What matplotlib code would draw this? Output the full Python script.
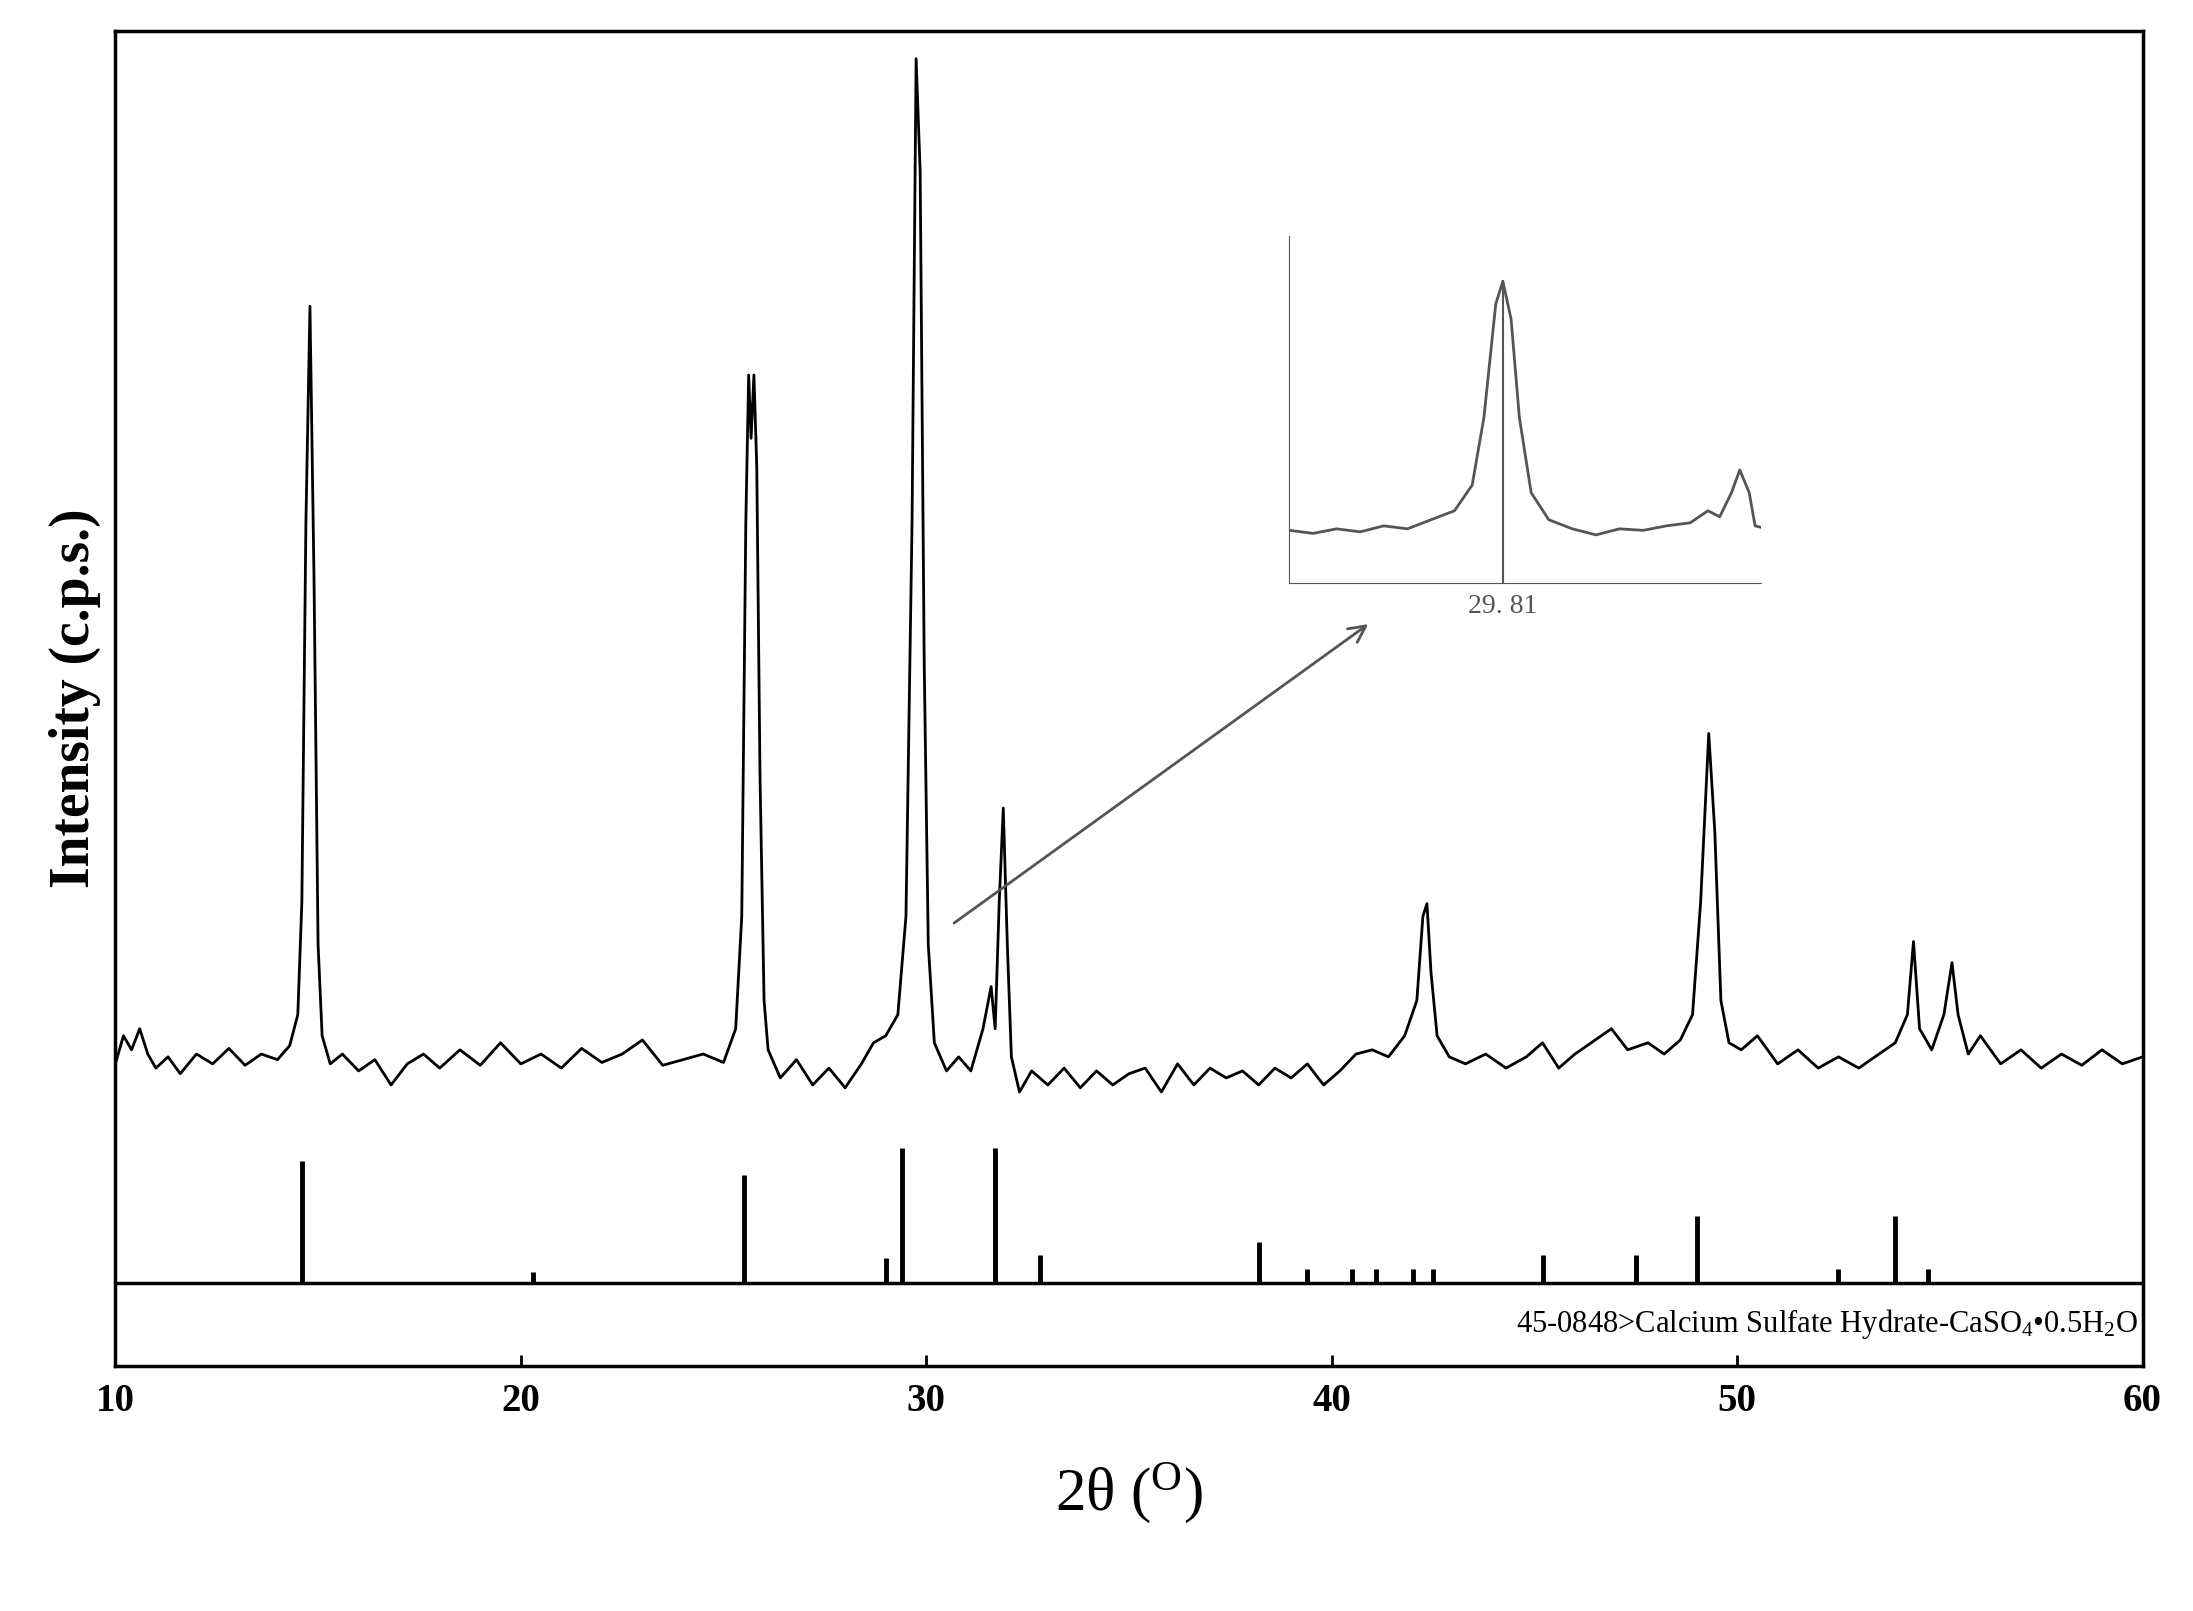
import matplotlib
matplotlib.use("Agg")
import matplotlib.pyplot as plt

plt.rcParams['mathtext.fontset'] = 'custom'
plt.rcParams['mathtext.rm'] = 'Liberation Serif'
plt.rcParams['mathtext.it'] = 'Liberation Serif:italic'
plt.rcParams['mathtext.bf'] = 'Liberation Serif:bold'

# main pattern (2theta, intensity)
two_theta = [10.0,10.2,10.4,10.6,10.8,11.0,11.3,11.6,12.0,12.4,12.8,13.2,13.6,14.0,14.3,14.5,14.6,14.7,14.8,14.9,15.0,15.1,15.3,15.6,16.0,16.4,16.8,17.2,17.6,18.0,18.5,19.0,19.5,20.0,20.5,21.0,21.5,22.0,22.5,23.0,23.5,24.0,24.5,25.0,25.3,25.45,25.55,25.62,25.68,25.75,25.82,25.9,26.0,26.1,26.4,26.8,27.2,27.6,28.0,28.4,28.7,29.0,29.3,29.5,29.65,29.75,29.85,29.95,30.05,30.2,30.5,30.8,31.1,31.4,31.6,31.7,31.8,31.9,32.0,32.1,32.3,32.6,33.0,33.4,33.8,34.2,34.6,35.0,35.4,35.8,36.2,36.6,37.0,37.4,37.8,38.2,38.6,39.0,39.4,39.8,40.2,40.6,41.0,41.4,41.8,42.1,42.25,42.35,42.45,42.6,42.9,43.3,43.8,44.3,44.8,45.2,45.6,46.0,46.5,46.9,47.3,47.8,48.2,48.6,48.9,49.1,49.3,49.45,49.6,49.8,50.1,50.5,51.0,51.5,52.0,52.5,53.0,53.5,53.9,54.2,54.35,54.5,54.8,55.1,55.3,55.45,55.7,56.0,56.5,57.0,57.5,58.0,58.5,59.0,59.5,60.0]
intensity = [215,235,225,240,222,212,220,208,222,215,226,214,222,218,228,250,330,600,754,560,300,235,215,222,210,218,200,215,222,212,225,214,230,215,222,212,226,216,222,232,214,218,222,216,240,320,600,705,660,705,640,420,260,225,205,218,200,212,198,215,230,235,250,320,600,930,850,500,300,230,210,220,210,240,270,240,330,397,300,220,195,210,200,212,198,210,200,208,212,195,215,200,212,205,210,200,212,205,215,200,210,222,225,220,235,260,320,329,280,235,220,215,222,212,220,230,212,222,232,240,225,230,222,232,250,330,450,380,260,230,225,235,215,225,212,220,212,222,230,250,302,240,225,250,287,250,222,235,215,225,212,222,214,225,215,220]

# reference sticks (PDF 45-0848)
stick_pos = [14.6,20.3,25.5,29.0,29.4,31.7,32.8,38.2,39.4,40.5,41.1,42.0,42.5,45.2,47.5,49.0,52.5,53.9,54.7]
stick_h = [146,67,136,77,155,155,79,88,69,69,69,69,69,79,79,107,69,107,69]
stick_base = 59

# inset
in_x = [28.0,28.2,28.4,28.6,28.8,29.0,29.2,29.4,29.55,29.65,29.75,29.81,29.88,29.95,30.05,30.2,30.4,30.6,30.8,31.0,31.2,31.4,31.55,31.65,31.75,31.82,31.9,31.95,32.0]
in_y = [35,33,36,34,38,36,42,48,65,110,185,200,175,110,60,42,36,32,36,35,38,40,48,44,60,75,60,38,37]
in_peak = 29.81

fig = plt.figure(figsize=(21.93, 16.11), dpi=100)
ax = fig.add_axes([0.0526, 0.152, 0.9244, 0.829])
ax.plot(two_theta, intensity, color='black', lw=2)
ax.axhline(stick_base, color='black', lw=2.5)
ax.vlines(stick_pos, stick_base, stick_h, color='black', lw=3.5)
ax.set_xlim(10, 60)
ax.set_ylim(0, 950)
ax.set_yticks([])
ax.set_xticks([10, 20, 30, 40, 50, 60])
ax.tick_params(axis='x', direction='in', length=8, width=2, pad=12)
for lbl in ax.get_xticklabels():
    lbl.set_family('Liberation Serif'); lbl.set_weight('bold'); lbl.set_fontsize(28)
for s in ax.spines.values():
    s.set_linewidth(2.5)
ax.set_ylabel('Intensity (c.p.s.)', family='Liberation Serif', weight='bold', fontsize=40, labelpad=10)
ax.set_xlabel(r'2θ ($^{\mathrm{O}}$)', family='Liberation Serif', fontsize=44, labelpad=30)
ax.text(59.9, 30, r'45-0848>Calcium Sulfate Hydrate-CaSO$_4$•0.5H$_2$O', ha='right', va='center',
        family='Liberation Serif', fontsize=22)
ax.annotate('', xy=(40.96, 529), xytext=(30.63, 314),
            arrowprops=dict(arrowstyle='->', color='#555555', lw=2, mutation_scale=30))

ia = fig.add_axes([0.588, 0.638, 0.215, 0.2155])
ia.plot(in_x, in_y, color='#555555', lw=2)
ia.axvline(in_peak, ymax=200/230, color='#555555', lw=1.5)
ia.set_xlim(28, 32)
ia.set_ylim(0, 230)
ia.set_yticks([])
ia.set_xticks([in_peak])
ia.set_xticklabels(['29. 81'], family='Liberation Serif', fontsize=20, color='#555555')
ia.tick_params(axis='x', length=0, pad=8)
ia.spines['top'].set_visible(False)
ia.spines['right'].set_visible(False)
ia.spines['left'].set_color('#555555')
ia.spines['bottom'].set_color('#555555')
ia.patch.set_alpha(0)

fig.savefig('out.png', dpi=100)
